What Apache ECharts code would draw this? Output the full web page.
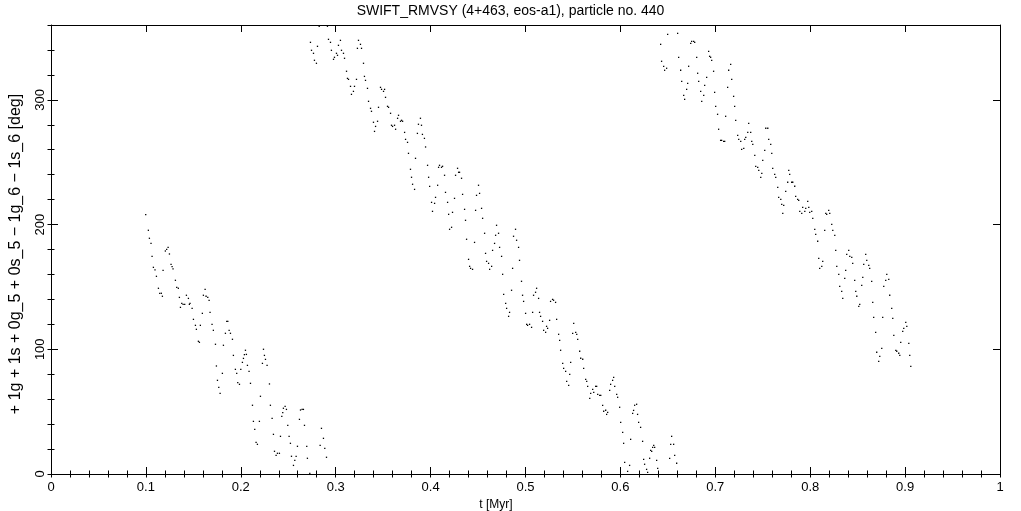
<!DOCTYPE html>
<html>
<head>
<meta charset="utf-8">
<script src="https://cdn.jsdelivr.net/npm/echarts@6/dist/echarts.min.js"></script>
<style>html,body{margin:0;padding:0;background:#fff}#c{width:1021px;height:511px}</style>
</head>
<body>
<div id="c"></div>
<script>
const titleText = 'SWIFT_RMVSY (4+463, eos-a1), particle no. 440';
const xName = 't [Myr]';
const yName = '+ 1g + 1s + 0g_5 + 0s_5 \u2212 1g_6 \u2212 1s_6 [deg]';
const xTicks = [0, 0.1, 0.2, 0.3, 0.4, 0.5, 0.6, 0.7, 0.8, 0.9, 1];
const yTicks = [0, 100, 200, 300];

const branch1 = [
[0.0998,207.9],[0.1026,195.4],[0.1037,189.0],[0.1054,184.9],[0.1065,174.5],[0.1079,165.7],[0.1096,163.6],[0.1111,158.5],[0.1132,148.9],[0.1146,144.9],[0.1163,144.9],[0.1174,142.5],[0.1181,163.3],[0.1205,178.8],[0.1219,180.1],[0.1234,181.7],[0.1248,176.4],[0.1265,168.1],[0.1276,166.2],[0.1286,164.4],[0.1311,155.3],[0.1325,149.7],[0.1342,148.9],[0.1353,141.6],[0.1364,133.6],[0.1378,136.8],[0.1392,136.0],[0.1409,136.0],[0.1427,143.3],[0.1448,140.8],[0.1458,136.0],[0.1465,136.8],[0.1487,132.8],[0.1501,124.0],[0.1522,119.2],[0.1532,116.0],[0.1553,106.4],[0.1564,105.6],[0.1574,119.2],[0.1595,128.8],[0.1606,143.3],[0.1624,148.1],[0.1634,142.5],[0.1652,141.6],[0.1666,139.2],[0.1676,129.6],[0.1697,120.0],[0.1711,115.2],[0.1733,104.0],[0.1743,86.6],[0.1754,75.1],[0.1768,69.5],[0.1782,64.7],[0.1806,80.7],[0.1817,103.2],[0.1838,112.8],[0.1852,122.4],[0.1863,122.4],[0.1877,115.2],[0.1891,112.8],[0.1912,108.0],[0.1922,95.1],[0.1943,83.9],[0.1957,80.7],[0.1968,73.2],[0.1986,71.9],[0.2000,83.9],[0.2017,89.5],[0.2028,92.7],[0.2038,95.7],[0.2049,99.2],[0.2059,95.9],[0.2070,87.1],[0.2087,82.3],[0.2102,72.7],[0.2123,55.1],[0.2133,42.2],[0.2147,35.8],[0.2161,25.4],[0.2175,23.8],[0.2196,42.2],[0.2207,62.3],[0.2228,88.7],[0.2239,100.0],[0.2249,95.1],[0.2260,91.9],[0.2277,87.1],[0.2302,72.2],[0.2312,55.1],[0.2330,44.6],[0.2344,31.8],[0.2355,18.2],[0.2372,15.0],[0.2386,16.6],[0.2407,16.6],[0.2418,30.2],[0.2432,46.2],[0.2442,49.2],[0.2449,52.7],[0.2467,54.3],[0.2481,51.8],[0.2495,39.0],[0.2509,30.2],[0.2523,24.6],[0.2534,14.2],[0.2555,6.9],[0.2569,11.0],[0.2583,14.2],[0.2597,22.2],[0.2618,43.8],[0.2629,51.3],[0.2646,51.8],[0.2660,51.8],[0.2671,39.0],[0.2695,22.2],[0.2702,12.6],[0.2727,0.5],[0.2836,23.0],[0.2850,36.6],[0.2871,28.6],[0.2885,20.6],[0.2903,13.4]
];

const branch2 = [
[0.2734,346.1],[0.2745,339.7],[0.2766,337.3],[0.2776,331.7],[0.2797,329.3],[0.2808,342.9],[0.2826,359.0],[0.2913,359.0],[0.2924,348.5],[0.2945,346.1],[0.2955,339.7],[0.2977,332.5],[0.2987,334.1],[0.3008,337.3],[0.3019,335.7],[0.3029,343.7],[0.3050,347.7],[0.3061,339.7],[0.3082,337.3],[0.3093,333.3],[0.3114,322.9],[0.3124,317.2],[0.3135,316.4],[0.3156,310.8],[0.3166,304.4],[0.3187,306.8],[0.3198,310.8],[0.3219,316.4],[0.3229,341.3],[0.3240,347.7],[0.3261,344.5],[0.3272,341.3],[0.3293,329.3],[0.3303,318.8],[0.3314,315.6],[0.3335,309.2],[0.3346,298.8],[0.3367,293.2],[0.3377,290.8],[0.3398,282.0],[0.3409,274.7],[0.3420,278.7],[0.3441,282.8],[0.3451,294.0],[0.3472,310.0],[0.3483,308.4],[0.3504,306.8],[0.3515,308.4],[0.3525,302.0],[0.3546,294.8],[0.3557,294.0],[0.3578,289.2],[0.3588,279.6],[0.3599,278.7],[0.3620,279.6],[0.3631,276.4],[0.3652,285.2],[0.3662,287.6],[0.3683,282.8],[0.3694,283.6],[0.3705,282.8],[0.3726,273.9],[0.3736,268.3],
[0.3757,265.9],[0.3767,257.1],[0.3788,244.3],[0.3799,237.9],[0.3810,232.3],[0.3831,228.2],[0.3841,253.1],[0.3861,273.1],[0.3872,280.4],[0.3893,285.2],[0.3904,279.6],[0.3914,272.3],[0.3935,269.1],[0.3947,262.2],[0.3968,247.5],[0.3979,237.9],[0.3990,230.6],[0.4010,217.8],[0.4020,210.6],[0.4042,217.0],[0.4052,221.8],[0.4074,231.5],[0.4084,245.9],[0.4094,247.5],[0.4115,245.9],[0.4126,246.7],[0.4147,239.5],[0.4157,225.8],[0.4179,217.8],[0.4190,208.2],[0.4200,196.2],[0.4221,197.8],[0.4231,209.8],[0.4252,221.0],[0.4263,239.5],[0.4284,245.1],[0.4295,241.9],[0.4305,241.9],[0.4326,237.1],[0.4337,224.2],[0.4358,212.2],[0.4368,203.4],[0.4379,188.2],[0.4400,172.1],[0.4411,166.5],[0.4421,164.9],[0.4442,164.1],[0.4463,185.7],[0.4474,211.4],[0.4484,223.4],[0.4505,231.5],[0.4516,225.0],[0.4537,213.0],[0.4548,205.0],[0.4569,193.0],[0.4579,176.9],[0.4590,170.5],[0.4611,168.9],[0.4622,164.1],[0.4643,166.5],[0.4653,179.3],[0.4674,184.9],[0.4685,191.4],[0.4695,199.4],[0.4716,193.0],[0.4727,181.7],[0.4748,174.5],[0.4759,160.1],[0.4770,144.1],[0.4791,136.8],[0.4801,132.8],[0.4822,126.4],[0.4832,129.6],[0.4853,147.3],[0.4864,164.9],[0.4874,190.6],[0.4895,196.2],[0.4906,187.4],[0.4927,181.7],[0.4937,171.3],[0.4958,154.5],[0.4969,143.3],[0.4980,138.4],[0.5001,128.8],[0.5012,120.0],[0.5022,119.2],[0.5043,120.0],[0.5064,117.6],[0.5075,129.6],[0.5085,143.3],[0.5106,145.7],[0.5117,148.9],[0.5138,140.8],[0.5148,129.6],[0.5159,126.4],[0.5180,122.4],[0.5191,115.2],[0.5212,113.6],[0.5222,118.4],[0.5233,116.8],[0.5254,123.2],
[0.5264,138.4],[0.5285,140.0],[0.5296,139.3],[0.5317,137.6],[0.5328,124.0],[0.5349,112.0],[0.5360,107.2],[0.5370,99.2],[0.5392,88.7],[0.5402,84.7],[0.5423,82.3],[0.5434,74.3],[0.5455,71.1],[0.5466,79.9],[0.5476,89.5],[0.5497,112.8],[0.5508,120.8],[0.5529,113.6],[0.5540,112.0],[0.5550,108.0],[0.5571,98.4],[0.5582,92.8],[0.5603,92.0],[0.5613,84.7],[0.5634,75.9],[0.5645,74.3],[0.5655,70.3],[0.5677,60.7],[0.5687,64.7],[0.5708,67.9],[0.5719,65.5],[0.5739,70.3],[0.5750,70.3],[0.5761,63.9],[0.5782,63.1],[0.5793,63.1],[0.5813,55.1],[0.5824,50.3],[0.5845,51.1],[0.5855,47.8],[0.5866,49.4],[0.5887,67.1],[0.5897,71.9],[0.5918,75.1],[0.5929,77.5],[0.5940,70.3],[0.5961,63.9],[0.5971,61.5],[0.5992,53.5],[0.6003,41.4],[0.6024,33.4],[0.6034,24.6],[0.6045,9.4],[0.6076,2.1],[0.6097,6.9],[0.6108,27.8],[0.6129,48.6],[0.6139,51.0],[0.6150,55.1],[0.6171,55.9],[0.6181,47.8],[0.6192,41.4],[0.6213,37.4],[0.6234,26.2],[0.6245,11.8],[0.6255,7.8],[0.6276,3.7],[0.6287,1.3],[0.6308,12.6],[0.6319,19.0],[0.6330,18.2],[0.6340,21.4],[0.6351,23.0],[0.6361,21.4],[0.6382,11.0],[0.6393,4.5],[0.6519,12.6],[0.6530,23.8],[0.6540,30.2],[0.6561,23.8],[0.6572,15.0],[0.6593,8.6]
];

const branch3 = [
[0.6424,344.5],[0.6434,330.9],[0.6456,326.9],[0.6466,323.7],[0.6487,325.3],[0.6498,352.5],[0.6603,353.3],[0.6614,334.1],[0.6635,323.7],[0.6646,314.8],[0.6667,303.6],[0.6677,300.4],[0.6698,308.4],[0.6709,313.2],[0.6719,326.9],[0.6741,345.3],[0.6751,346.9],[0.6772,346.9],[0.6783,346.1],[0.6804,334.1],[0.6814,321.3],[0.6825,314.8],[0.6846,306.8],[0.6857,298.8],[0.6878,303.6],[0.6888,311.6],[0.6909,318.0],[0.6930,338.9],[0.6940,334.9],[0.6951,334.1],[0.6962,331.7],[0.6982,322.9],[0.6993,306.0],[0.7004,294.8],[0.7024,288.4],[0.7035,276.4],[0.7056,267.5],[0.7067,267.5],[0.7088,266.7],[0.7099,266.7],[0.7109,286.8],[0.7130,310.0],[0.7141,323.7],[0.7162,328.5],[0.7173,316.4],[0.7193,302.8],[0.7204,294.8],[0.7215,283.6],[0.7236,271.5],[0.7247,268.3],[0.7268,266.7],[0.7278,260.3],[0.7300,261.1],[0.7310,268.3],[0.7321,269.9],[0.7342,273.9],[0.7352,281.2],[0.7373,273.9],[0.7384,266.7],[0.7395,264.3],[0.7416,255.5],[0.7426,246.7],[0.7447,245.9],[0.7458,243.5],[0.7479,237.9],[0.7490,241.1],[0.7500,251.5],[0.7521,259.5],[0.7532,277.2],[0.7553,277.2],[0.7563,268.3],[0.7584,264.3],[0.7595,257.1],[0.7605,245.1],[0.7626,240.3],[0.7637,237.9],[0.7658,229.8],[0.7668,221.8],[0.7690,220.2],[0.7700,216.2],[0.7711,209.0],[0.7721,215.4],[0.7742,226.6],[0.7763,233.9],[0.7774,243.5],[0.7784,240.3],[0.7805,233.9],[0.7816,233.9],[0.7837,230.7],[0.7847,222.6],[0.7868,220.2],[0.7879,219.4],[0.7890,210.6],
[0.7911,209.0],[0.7921,213.8],[0.7943,210.6],[0.7953,213.0],[0.7974,218.6],[0.7985,213.8],[0.7995,209.8],[0.8016,210.6],[0.8027,205.0],[0.8048,196.2],[0.8058,192.2],[0.8079,186.6],[0.8090,172.9],[0.8100,164.9],[0.8122,166.5],[0.8132,170.5],[0.8153,195.4],[0.8164,209.0],[0.8174,208.2],[0.8195,211.4],[0.8206,209.0],[0.8227,200.2],[0.8238,195.4],[0.8259,191.4],[0.8269,179.3],[0.8280,166.5],[0.8301,160.1],[0.8311,150.5],[0.8332,146.5],[0.8343,140.8],[0.8364,156.9],[0.8374,163.3],[0.8385,176.1],[0.8406,179.3],[0.8417,174.5],[0.8438,173.7],[0.8448,168.9],[0.8469,155.3],[0.8480,146.5],[0.8491,142.5],[0.8512,134.4],[0.8522,136.0],[0.8543,151.3],[0.8554,157.7],[0.8564,168.1],[0.8585,176.1],[0.8596,171.3],[0.8617,167.3],[0.8627,164.9],[0.8648,154.5],[0.8659,137.6],[0.8669,125.6],[0.8690,113.6],[0.8701,97.6],[0.8722,90.3],[0.8733,94.3],[0.8754,100.8],[0.8764,125.6],[0.8775,150.5],[0.8796,155.3],[0.8807,160.1],[0.8828,156.1],[0.8838,143.3],[0.8859,132.8],[0.8870,124.8],[0.8881,111.2],[0.8902,99.2],[0.8912,98.4],[0.8933,96.8],[0.8944,95.1],[0.8954,105.6],[0.8975,114.4],[0.8986,116.8],[0.9007,121.6],[0.9018,118.4],[0.9039,104.8],[0.9049,95.1],[0.9060,86.3]
];

const FONT = 'Liberation Sans';
const BLACK = '#000';

function majorX(pos, labels) {
  return {
    type: 'value', min: 0, max: 1, interval: 0.1, position: pos,
    axisLine: { show: true, onZero: false, lineStyle: { color: BLACK, width: 1 } },
    axisTick: { show: true, inside: true, length: 7, lineStyle: { color: BLACK, width: 1 } },
    axisLabel: labels ? {
      show: true, color: BLACK, fontFamily: FONT, fontSize: 13, margin: 7,
      formatter: v => { const m = xTicks.find(t => Math.abs(t - v) < 1e-9); return m === undefined ? '' : String(m); }
    } : { show: false },
    splitLine: { show: false }
  };
}
function minorX(pos) {
  return {
    type: 'value', min: 0, max: 1, interval: 0.02, position: pos,
    axisLine: { show: false }, axisLabel: { show: false }, splitLine: { show: false },
    axisTick: { show: true, inside: true, length: 3.5, lineStyle: { color: BLACK, width: 1 } }
  };
}
function majorY(pos, labels) {
  return {
    type: 'value', min: 0, max: 360, interval: 100, position: pos,
    axisLine: { show: true, onZero: false, lineStyle: { color: BLACK, width: 1 } },
    axisTick: { show: true, inside: true, length: 7, lineStyle: { color: BLACK, width: 1 } },
    axisLabel: labels ? {
      show: true, color: BLACK, fontFamily: FONT, fontSize: 13, margin: 4, rotate: 90,
      showMaxLabel: false,
      formatter: v => yTicks.indexOf(Math.round(v)) >= 0 ? String(Math.round(v)) : ''
    } : { show: false },
    splitLine: { show: false }
  };
}
function minorY(pos) {
  return {
    type: 'value', min: 0, max: 360, interval: 20, position: pos,
    axisLine: { show: false }, axisLabel: { show: false }, splitLine: { show: false },
    axisTick: { show: true, inside: true, length: 3.5, lineStyle: { color: BLACK, width: 1 } }
  };
}

const xMain = majorX('bottom', true);
xMain.name = xName;
xMain.nameLocation = 'middle';
xMain.nameGap = 21;
xMain.nameTextStyle = { color: BLACK, fontFamily: FONT, fontSize: 12, padding: [0, 59, 0, 0] };

const yMain = majorY('left', true);
yMain.name = yName;
yMain.nameLocation = 'middle';
yMain.nameRotate = 90;
yMain.nameGap = 27;
yMain.nameTextStyle = { color: BLACK, fontFamily: FONT, fontSize: 16, padding: [0, 9, 0, 0] };

const dotStyle = { color: BLACK, opacity: 1 };
function branchSeries(name, data) {
  return {
    name, type: 'scatter', xAxisIndex: 0, yAxisIndex: 0, data,
    symbol: 'rect', symbolSize: 1.3, itemStyle: dotStyle, silent: true
  };
}

const chart = echarts.init(document.getElementById('c'), null, { renderer: 'canvas' });
chart.setOption({
  animation: false,
  backgroundColor: '#fff',
  title: {
    text: titleText, left: 'center', top: 4, padding: 0,
    textStyle: { color: BLACK, fontFamily: FONT, fontSize: 14, fontWeight: 'normal' }
  },
  grid: { left: 51, right: 21, top: 25, bottom: 37, containLabel: false, outerBoundsMode: 'none' },
  xAxis: [xMain, minorX('bottom'), majorX('top', false), minorX('top')],
  yAxis: [yMain, minorY('left'), majorY('right', false), minorY('right')],
  series: [branchSeries('branch1', branch1), branchSeries('branch2', branch2), branchSeries('branch3', branch3)]
});
</script>
</body>
</html>
